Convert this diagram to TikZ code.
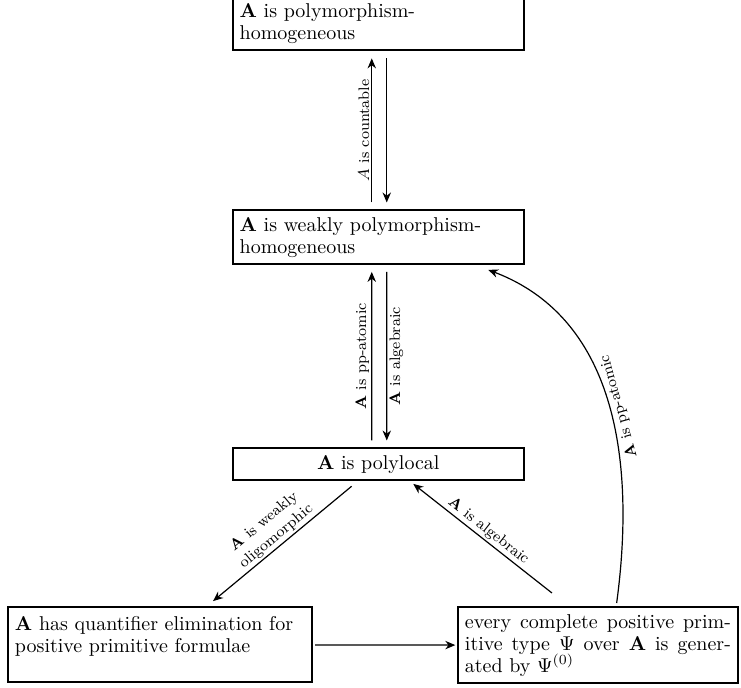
\documentclass[tikz,border=0pt]{standalone}
\usetikzlibrary{arrows.meta,calc}
\begin{document}
\begin{tikzpicture}[x=0.5pt,y=-0.5pt,
  box/.style={draw, line width=1pt, outer sep=0pt, inner sep=3.33pt,
    font=\fontsize{10}{11}\selectfont, anchor=north west},
  arr/.style={-{Stealth[length=5pt,width=4.2pt,inset=1.6pt]}, line width=0.6pt},
  lab/.style={font=\fontsize{7.6}{9.5}\selectfont, inner sep=1pt}]
\useasboundingbox (0,0) rectangle (741,688);

\node[box, text width=138.6pt, align=left] (t) at (233,-3)
  {\textbf{A} is polymorphism-\\homogeneous};
\node[box, text width=138.6pt, align=left] (w) at (233,210.5)
  {\textbf{A} is weakly polymorphism-\\homogeneous};
\node[box, minimum width=145.27pt, align=center] (p) at (233,448.5)
  {\textbf{A} is polylocal};
\node[box, text width=145.2pt, align=left, minimum height=37.5pt] (bl) at (8.3,607.5)
  {\textbf{A} has quantifier elimination for\\positive primitive formulae\\\mbox{}};
\node[box, text width=133pt, align=justify, minimum height=37.5pt] (br) at (458.3,607.5)
  {every complete positive prim-\linebreak itive type $\Psi$ over $\mathbf{A}$ is gener-\linebreak ated by $\Psi^{(0)}$};

% top pair
\draw[arr, shorten <=4pt, shorten >=4pt] ($(w.north)+(-6.5,0)$) -- ($(t.south)+(-6.5,0)$)
  node[lab, midway, rotate=90, anchor=south] {$A$ is countable};
\draw[arr, shorten <=4pt, shorten >=4pt] ($(t.south)+(8.5,0)$) -- ($(w.north)+(8.5,0)$);

% middle pair
\draw[arr, shorten <=4pt, shorten >=4pt] ($(p.north)+(-6.5,0)$) -- ($(w.south)+(-6.5,0)$)
  node[lab, midway, rotate=90, anchor=south] {\textbf{A} is pp-atomic};
\draw[arr, shorten <=4pt, shorten >=4pt] ($(w.south)+(8.5,0)$) -- ($(p.north)+(8.5,0)$)
  node[lab, midway, rotate=90, anchor=north] {\textbf{A} is algebraic};

% diagonals
\draw[arr, shorten <=5pt, shorten >=5pt] (p) -- (bl)
  node[lab, midway, sloped, above, align=center] {\textbf{A} is weakly\\oligomorphic};
\draw[arr] ($(br.north)+(-46,-14.5)$) -- ($(p.south)+(35,4)$)
  node[lab, midway, sloped, above] {\textbf{A} is algebraic};

% bottom horizontal
\draw[arr, shorten <=1.5pt, shorten >=1.5pt] (bl) -- (br);

% curved
\draw[arr] ($(br.north)+(18.7,-4.5)$) .. controls +(18,-133) and +(132,50) .. ($(w.south)+(110,6)$)
  node[lab, pos=0.49, sloped, allow upside down, below] {\textbf{A} is pp-atomic};
\end{tikzpicture}
\end{document}
